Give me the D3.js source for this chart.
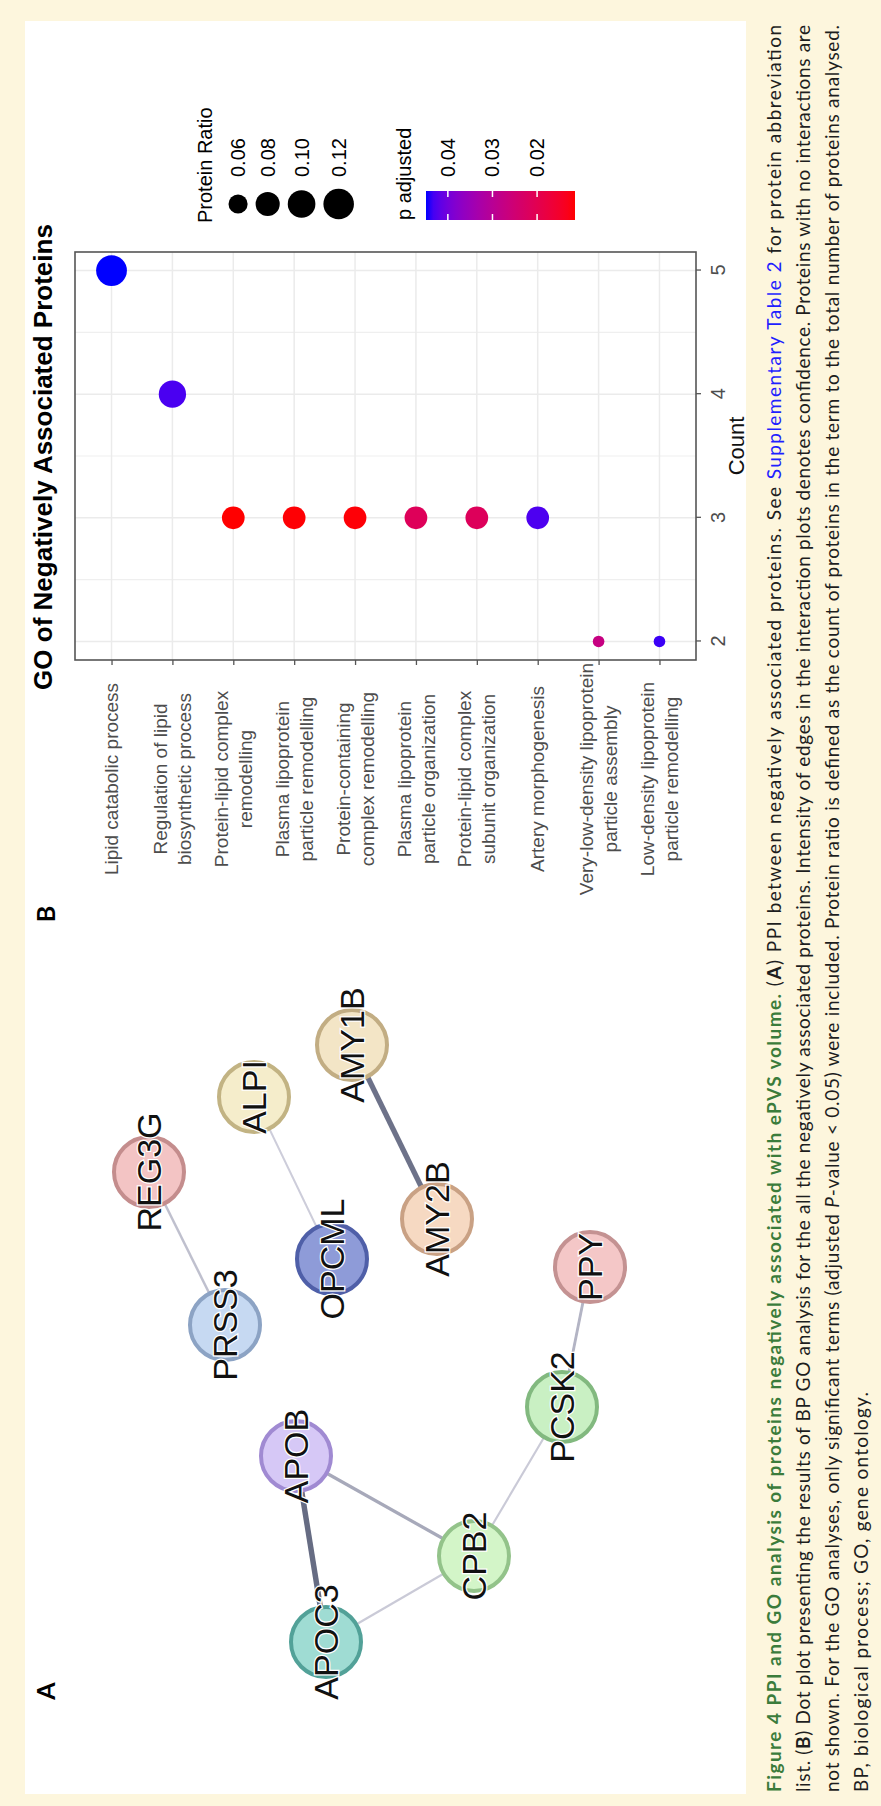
<!DOCTYPE html>
<html>
<head>
<meta charset="utf-8">
<script src="https://cdn.jsdelivr.net/npm/d3@7"></script>
<style>
html, body { margin: 0; padding: 0; background: #fff; }
svg { display: block; }
text { white-space: pre; }
</style>
</head>
<body>
<svg id="fig" width="881" height="1806"></svg>
<script>
// ---- GO dot plot (panel B) ----
const goTerms = [
    "Lipid catabolic process",
    "Regulation of lipid biosynthetic process",
    "Protein-lipid complex remodelling",
    "Plasma lipoprotein particle remodelling",
    "Protein-containing complex remodelling",
    "Plasma lipoprotein particle organization",
    "Protein-lipid complex subunit organization",
    "Artery morphogenesis",
    "Very-low-density lipoprotein particle assembly",
    "Low-density lipoprotein particle remodelling",
];
const goLabelLines = [
    ["Lipid catabolic process"],
    ["Regulation of lipid", "biosynthetic process"],
    ["Protein-lipid complex", "remodelling"],
    ["Plasma lipoprotein", "particle remodelling"],
    ["Protein-containing", "complex remodelling"],
    ["Plasma lipoprotein", "particle organization"],
    ["Protein-lipid complex", "subunit organization"],
    ["Artery morphogenesis"],
    ["Very-low-density lipoprotein", "particle assembly"],
    ["Low-density lipoprotein", "particle remodelling"],
];
const goCounts = [5, 4, 3, 3, 3, 3, 3, 3, 2, 2];
const goRatios = [0.122, 0.0976, 0.0732, 0.0732, 0.0732, 0.0732, 0.0732, 0.0732, 0.0488, 0.0488];
const goPadj = [0.0449, 0.0430, 0.0115, 0.0117, 0.0119, 0.0212, 0.0214, 0.0428, 0.0272, 0.0437];
const countTicks = [2, 3, 4, 5];
const countMinor = [2.5, 3.5, 4.5];
const ratioBreaks = [0.06, 0.08, 0.10, 0.12];
const padjBreaks = [0.04, 0.03, 0.02];

// ---- PPI network (panel A) ----
const proteins = ["REG3G", "PRSS3", "ALPI", "OPCML", "AMY1B", "AMY2B", "PPY", "PCSK2", "APOB", "CPB2", "APOC3"];
const layoutX = [484, 331, 559, 397, 611, 437, 389, 249, 200, 100, 14];
const layoutY = [49, 125, 154, 232, 252, 337, 490, 462, 196, 374, 226];
const edgeFrom = ["REG3G", "ALPI", "AMY1B", "APOB", "APOB", "APOC3", "CPB2", "PCSK2"];
const edgeTo = ["PRSS3", "OPCML", "AMY2B", "APOC3", "CPB2", "CPB2", "PCSK2", "PPY"];
const edgeScore = [0.48, 0.40, 0.95, 0.99, 0.62, 0.42, 0.42, 0.55];

const nodeFill = {
    REG3G: "#f3c4c4", PRSS3: "#c6d9f2", ALPI: "#f5edcb", OPCML: "#8e9bd8",
    AMY1B: "#f3e5c6", AMY2B: "#f6d9c2", PPY: "#f4c7c7", PCSK2: "#c9f0c3",
    APOB: "#d6c8f6", CPB2: "#d3f5c8", APOC3: "#9fdcd3",
};
const nodeStroke = {
    REG3G: "#c48d8d", PRSS3: "#8ca3c4", ALPI: "#c2b383", OPCML: "#4f5fa8",
    AMY1B: "#c2ad83", AMY2B: "#c9a184", PPY: "#c49292", PCSK2: "#82b97f",
    APOB: "#a08ad2", CPB2: "#93c38a", APOC3: "#52a198",
};

// ---- caption ----
const captionLines = [
    [["Figure 4 PPI and GO analysis of proteins negatively associated with ePVS volume.", "head"], [" (", ""], ["A", "bold"],
     [") PPI between negatively associated proteins. See ", ""], ["Supplementary Table 2", "link"], [" for protein abbreviation", ""]],
    [["list. (", ""], ["B", "bold"],
     [") Dot plot presenting the results of BP GO analysis for the all the negatively associated proteins. Intensity of edges in the interaction plots denotes confidence. Proteins with no interactions are", ""]],
    [["not shown. For the GO analyses, only significant terms (adjusted ", ""], ["P", "ital"],
     ["-value < 0.05) were included. Protein ratio is defined as the count of proteins in the term to the total number of proteins analysed.", ""]],
    [["BP, biological process; GO, gene ontology.", ""]],
];

const svg = d3.select("#fig");
svg.append("rect").attr("width", 881).attr("height", 1806).attr("fill", "#fdf6dd");

// whole page is printed turned a quarter turn; draw in the upright frame
const page = svg.append("g").attr("transform", "translate(0,1806) rotate(-90)");

page.append("rect")
    .attr("x", 12).attr("y", 25)
    .attr("width", 1773).attr("height", 721)
    .attr("fill", "#fff");

// caption
const capFont = "Lato, 'Open Sans', sans-serif";
const capBase = [781, 810, 839, 868];
const capLen = [1767, 1767, 1767, 400];
captionLines.forEach((line, i) => {
    const t = page.append("text")
        .attr("x", 14)
        .attr("y", capBase[i])
        .attr("font-family", capFont)
        .attr("font-size", 19)
        .attr("fill", "#1e1e1e")
        .attr("textLength", capLen[i])
        .attr("lengthAdjust", "spacing");
    line.forEach(([s, kind]) => {
        const ts = t.append("tspan").text(s);
        if (kind === "head") ts.attr("font-weight", 700).attr("fill", "#3b7c3b");
        if (kind === "bold") ts.attr("font-weight", 700);
        if (kind === "link") ts.attr("fill", "#1f1fff");
        if (kind === "ital") ts.attr("font-style", "italic");
    });
});

// panel letters
page.append("text").attr("x", 892).attr("y", 55)
    .attr("text-anchor", "middle").attr("font-family", "Lato, sans-serif")
    .attr("font-weight", 700).attr("font-size", 25).text("B");
page.append("text").attr("x", 115).attr("y", 55)
    .attr("text-anchor", "middle").attr("font-family", "Lato, sans-serif")
    .attr("font-weight", 700).attr("font-size", 25).text("A");

// ---------------- dot plot ----------------
const plotFont = "'Liberation Sans', Arial, sans-serif";
const xCount = d3.scaleLinear().domain([1.85, 5.15]).range([1146, 1554]);
const yCat = d3.scalePoint().domain(goTerms).range([75, 696]).padding(0.6);
const sizeNorm = d3.scaleLinear().domain([0.0488, 0.122]).range([0, 1]).clamp(true);
const rLin = d3.scaleLinear().domain([0, 1]).range([5.8, 15.4]);
const rSize = v => rLin(Math.sqrt(sizeNorm(v)));
const pColor = d3.scaleLinear().domain([0.0115, 0.0449]).range(["#ff0000", "#0000ff"])
    .interpolate(d3.interpolateLab).clamp(true);

const dp = page.append("g");

// grid
dp.selectAll(".gmin").data(countMinor).join("line")
    .attr("x1", d => xCount(d)).attr("x2", d => xCount(d))
    .attr("y1", 75).attr("y2", 696)
    .attr("stroke", "#efefef").attr("stroke-width", 1.2);
dp.selectAll(".gmaj").data(countTicks).join("line")
    .attr("x1", d => xCount(d)).attr("x2", d => xCount(d))
    .attr("y1", 75).attr("y2", 696)
    .attr("stroke", "#ebebeb").attr("stroke-width", 1.5);
dp.selectAll(".gcat").data(goTerms).join("line")
    .attr("x1", 1146).attr("x2", 1554)
    .attr("y1", d => yCat(d)).attr("y2", d => yCat(d))
    .attr("stroke", "#ebebeb").attr("stroke-width", 1.5);

// dots
const goRows = goTerms.map((t, i) => ({term: t, count: goCounts[i], ratio: goRatios[i], p: goPadj[i]}));
dp.selectAll(".dot").data(goRows).join("circle")
    .attr("cx", d => xCount(d.count))
    .attr("cy", d => yCat(d.term))
    .attr("r", d => rSize(d.ratio))
    .attr("fill", d => pColor(d.p));

// panel border
dp.append("rect")
    .attr("x", 1146).attr("y", 75).attr("width", 408).attr("height", 621)
    .attr("fill", "none").attr("stroke", "#555").attr("stroke-width", 1.6);

// count axis
const xAxis = dp.append("g")
    .attr("transform", "translate(0,696)")
    .call(d3.axisBottom(xCount).tickValues(countTicks).tickSize(5).tickPadding(10).tickFormat(d3.format("d")));
xAxis.select(".domain").remove();
xAxis.selectAll(".tick line").attr("stroke", "#555").attr("stroke-width", 1.3);
xAxis.selectAll(".tick text")
    .attr("font-family", plotFont).attr("font-size", 20).attr("fill", "#4d4d4d");

dp.append("text")
    .attr("x", 1360).attr("y", 744)
    .attr("text-anchor", "middle")
    .attr("font-family", plotFont).attr("font-size", 22).attr("fill", "#111")
    .text("Count");

// category axis
const yAxis = dp.append("g")
    .attr("transform", "translate(1146,0)")
    .call(d3.axisLeft(yCat).tickSize(5).tickFormat(""));
yAxis.select(".domain").remove();
yAxis.selectAll(".tick line").attr("stroke", "#555").attr("stroke-width", 1.3);

goTerms.forEach((term, i) => {
    const lines = goLabelLines[i];
    const lh = 24;
    const t = dp.append("text")
        .attr("text-anchor", "middle")
        .attr("font-family", plotFont).attr("font-size", 19).attr("fill", "#4d4d4d");
    lines.forEach((s, j) => {
        t.append("tspan")
            .attr("x", 1027)
            .attr("y", yCat(term) + 6.6 + (j - (lines.length - 1) / 2) * lh)
            .text(s);
    });
});

// title
dp.append("text")
    .attr("x", 1349).attr("y", 52)
    .attr("text-anchor", "middle")
    .attr("font-family", plotFont).attr("font-weight", 700).attr("font-size", 26)
    .text("GO of Negatively Associated Proteins");

// legend: protein ratio
dp.append("text")
    .attr("x", 1583).attr("y", 212)
    .attr("font-family", plotFont).attr("font-size", 20)
    .text("Protein Ratio");
let keyPos = 224.5;
const keyRows = ratioBreaks.map(b => {
    const r = rSize(b);
    const h = 2 * r + 8;
    const c = keyPos + h / 2;
    keyPos += h;
    return {b, r, c};
});
dp.selectAll(".key").data(keyRows).join("circle")
    .attr("cx", 1602).attr("cy", d => d.c).attr("r", d => d.r).attr("fill", "#000");
dp.selectAll(".keylab").data(keyRows).join("text")
    .attr("x", 1629).attr("y", d => d.c + 7)
    .attr("font-family", plotFont).attr("font-size", 20)
    .text(d => d3.format(".2f")(d.b));

// legend: p adjusted
dp.append("text")
    .attr("x", 1586).attr("y", 411)
    .attr("font-family", plotFont).attr("font-size", 20)
    .text("p adjusted");
const barPos = d3.scaleLinear().domain([0.0449, 0.0115]).range([426, 575]);
const grad = svg.append("defs").append("linearGradient")
    .attr("id", "pgrad").attr("x1", 0).attr("y1", 0).attr("x2", 0).attr("y2", 1);
d3.range(0, 1.0001, 0.05).forEach(t => {
    grad.append("stop").attr("offset", t)
        .attr("stop-color", pColor(barPos.invert(426 + t * 149)));
});
dp.append("rect")
    .attr("x", 1586).attr("y", 426).attr("width", 29).attr("height", 149)
    .attr("fill", "url(#pgrad)");
padjBreaks.forEach(b => {
    dp.append("line").attr("x1", 1586).attr("x2", 1592)
        .attr("y1", barPos(b)).attr("y2", barPos(b))
        .attr("stroke", "#fff").attr("stroke-width", 1.5);
    dp.append("line").attr("x1", 1609).attr("x2", 1615)
        .attr("y1", barPos(b)).attr("y2", barPos(b))
        .attr("stroke", "#fff").attr("stroke-width", 1.5);
});
dp.selectAll(".plab").data(padjBreaks).join("text")
    .attr("x", 1629).attr("y", d => barPos(d) + 7)
    .attr("font-family", plotFont).attr("font-size", 20)
    .text(d => d3.format(".2f")(d));

// ---------------- PPI network ----------------
const nx = d3.scaleLinear().domain([0, 700]).range([150, 850]);
const ny = d3.scaleLinear().domain([0, 600]).range([100, 700]);
const nodes = proteins.map((p, i) => ({id: p, x: nx(layoutX[i]), y: ny(layoutY[i])}));
const byId = Object.fromEntries(nodes.map(n => [n.id, n]));
const edges = edgeFrom.map((f, i) => ({s: byId[f], t: byId[edgeTo[i]], score: edgeScore[i]}));
const eWidth = d3.scaleLinear().domain([0.4, 1]).range([2, 5.5]);
const eColor = d3.scaleLinear().domain([0.4, 1]).range(["#cdcdda", "#646a82"]);

const net = page.append("g");
net.selectAll(".edge").data(edges).join("line")
    .attr("x1", d => d.s.x).attr("y1", d => d.s.y)
    .attr("x2", d => d.t.x).attr("y2", d => d.t.y)
    .attr("stroke", d => eColor(d.score))
    .attr("stroke-width", d => eWidth(d.score));
net.selectAll(".node").data(nodes).join("circle")
    .attr("cx", d => d.x).attr("cy", d => d.y).attr("r", 35)
    .attr("fill", d => nodeFill[d.id])
    .attr("stroke", d => nodeStroke[d.id])
    .attr("stroke-width", 4);
net.selectAll(".nlab").data(nodes).join("text")
    .attr("x", d => d.x).attr("y", d => d.y)
    .attr("dy", "0.36em")
    .attr("text-anchor", "middle")
    .attr("font-family", plotFont).attr("font-size", 34)
    .attr("fill", "#111")
    .attr("stroke", "#fff").attr("stroke-width", 2.5)
    .attr("paint-order", "stroke")
    .text(d => d.id);
</script>
</body>
</html>
